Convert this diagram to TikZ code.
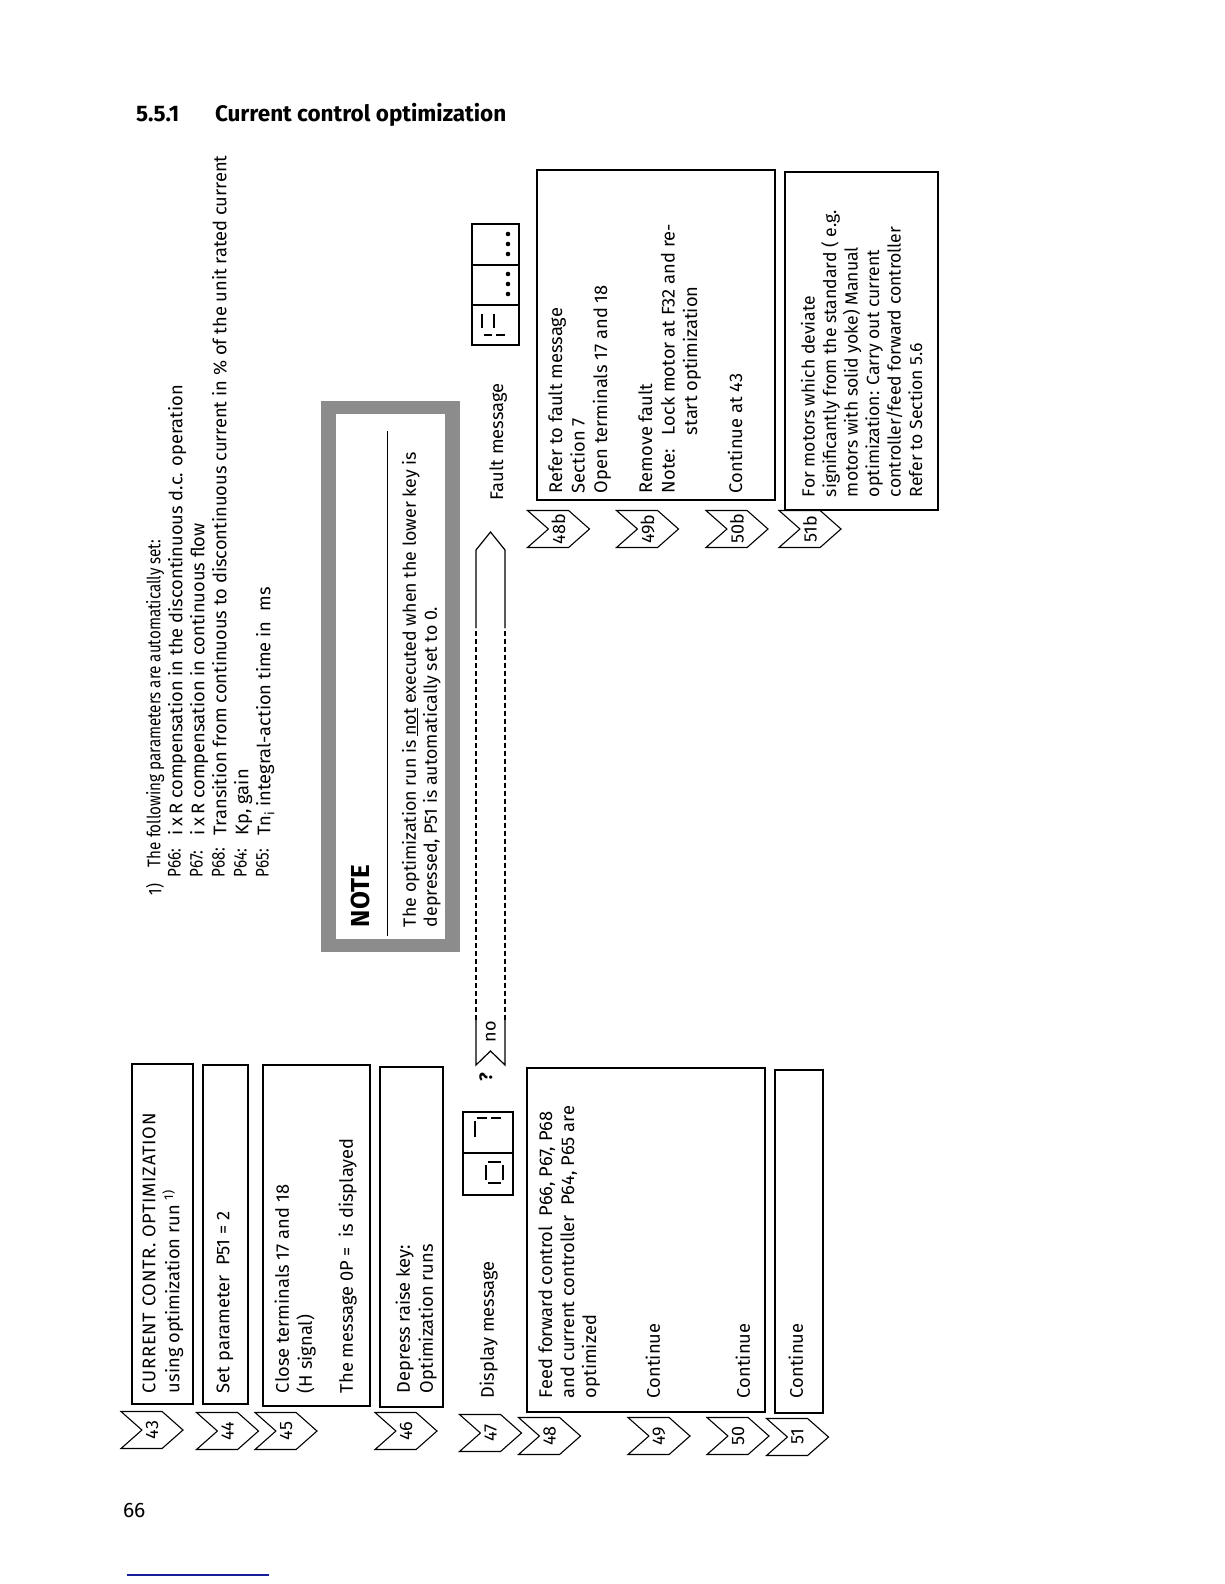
\documentclass[tikz,border=0pt]{standalone}
\usepackage{fontspec}
\setmainfont{Fira Sans}
\newfontfamily\condfont[FakeStretch=0.83]{Fira Sans}
\newfontfamily\spacedfont[LetterSpace=4]{Fira Sans}
\usetikzlibrary{shapes.symbols}
\definecolor{blueline}{RGB}{20,30,150}
\newcommand{\boxnode}[6][box]{%
  \node[#1,anchor=north west,minimum width={(#5-#3)*1pt},minimum height={(#6-#4)*1pt}] (#2) at (#3,#4) {};}
\begin{document}
\begin{tikzpicture}[x=1pt,y=-1pt,
  every node/.style={inner sep=0pt,outer sep=0pt},
  box/.style={draw,line width=1.2pt},
  txt/.style={rotate=90,anchor=north west,align=left,font=\fontsize{18.3}{23}\selectfont},
  fn/.style={rotate=90,anchor=north west,align=left,font=\fontsize{18.3}{22}\selectfont},
  fnlab/.style={fn,font=\condfont\fontsize{18.3}{22}\selectfont},
  tag/.style={draw,line width=1.1pt,shape=signal,signal to=east,signal from=west,
    minimum width=62pt,minimum height=37pt,signal pointer angle=83,font=\fontsize{18}{20}\selectfont},
  seg/.style={line width=2.6pt},
]
\useasboundingbox (0,0) rectangle (1224,1584);

% heading and page furniture
\node[anchor=base west,font=\bfseries\fontsize{22.5}{26}\selectfont] (secnum) at (136,122) {5.5.1};
\node[anchor=base west,font=\bfseries\fontsize{22.5}{26}\selectfont] (sectitle) at (215,122) {Current control optimization};
\node[anchor=base west,font=\fontsize{21}{24}\selectfont] (pagenum) at (123,1517) {66};
\coordinate (blA) at (127,1575);
\coordinate (blB) at (269,1575);
\draw[blueline,line width=1.6pt] (blA) -- (blB);

% footnote
\node[fnlab] (fnmark) at (146,895) {1)};
\node[fnlab] (fnhead) at (146,867) {The following parameters are automatically set:};
\node[fnlab] (fnP66) at (168,877) {P66:};
\node[fn] (fnP66t) at (168,835) {i\,x\,R compensation in the discontinuous d.c. operation};
\node[fnlab] (fnP67) at (190,877) {P67:};
\node[fn] (fnP67t) at (190,835) {i\,x\,R compensation in continuous flow};
\node[fnlab] (fnP68) at (212,877) {P68:};
\node[fn] (fnP68t) at (212,835) {Transition from continuous to discontinuous current in \% of the unit rated current};
\node[fnlab] (fnP64) at (234,877) {P64:};
\node[fn] (fnP64t) at (234,835) {Kp, gain};
\node[fnlab] (fnP65) at (256,877) {P65:};
\node[fn] (fnP65t) at (256,835) {Tn\textsubscript{i} integral-action time in\ \ ms};

% NOTE box
\boxnode[fill=black!45]{noteframe}{321}{401}{460}{952}
\boxnode[fill=white]{noteinner}{336}{414}{445}{939}
\node[rotate=90,anchor=north west,font=\bfseries\fontsize{26}{30}\selectfont] (notehead) at (351,927) {NOTE};
\coordinate (ruleA) at (387,936);
\coordinate (ruleB) at (387,431);
\draw[line width=1pt] (ruleA) -- (ruleB);
\node[fn,font=\fontsize{17.8}{21}\selectfont] (notetext) at (402,927) {The optimization run is \underline{not} executed when the lower key is\\depressed, P51 is automatically set to 0.};

% boxes
\boxnode{b43}{132}{1064}{193}{1404}
\boxnode{b44}{203}{1065}{248}{1404}
\boxnode{b45}{263}{1065}{370}{1406}
\boxnode{b46}{380}{1067}{443}{1407}
\boxnode{b48}{527}{1068}{765}{1412}
\boxnode{b51}{775}{1070}{823}{1413}
\boxnode{b48b}{537}{170}{775}{500}
\boxnode{b51b}{785}{172}{938}{510}

\node[txt] (x43) at (142.5,1393) {{\spacedfont CURRENT CONTR. OPTIMIZATION}\\[1pt]using optimization run \textsuperscript{1)}};
\node[txt] (x44) at (216.5,1393) {Set parameter\ \ P51 = 2};
\node[txt] (x45) at (274.5,1393) {Close terminals 17 and 18\\(H signal)\\[18pt]The message 0P =\ \ is displayed};
\node[txt] (x46) at (395.5,1393) {Depress raise key:\\Optimization runs};
\node[txt] (x47) at (479.5,1398) {Display message};
\node[txt,font=\fontsize{18.3}{22}\selectfont] (x48) at (538.5,1398) {Feed forward control\ \ P66, P67, P68\\and current controller\ \ P64, P65 are\\optimized};
\node[txt] (x49) at (645.5,1398) {Continue};
\node[txt] (x50) at (735.5,1398) {Continue};
\node[txt] (x51) at (788.5,1398) {Continue};

\node[txt] (xfault) at (489.5,500) {Fault message};
\node[txt,font=\fontsize{18.3}{22.5}\selectfont] (x48b) at (548.5,493) {Refer to fault message\\Section 7\\Open terminals 17 and 18\\[22.5pt]Remove fault\\\makebox[58pt][l]{Note:}Lock motor at F32 and re-\\\hspace*{58pt}start optimization\\[22.5pt]Continue at 43};
\node[txt,font=\fontsize{17.6}{21.5}\selectfont] (x51b) at (801,497) {For motors which deviate\\significantly from the standard ( e.g.\\motors with solid yoke) Manual\\optimization: Carry out current\\controller/feed forward controller\\Refer to Section 5.6};

% step tags
\node[tag] (t43) at (152,1430) {\rotatebox{90}{43}};
\node[tag] (t44) at (227.5,1431) {\rotatebox{90}{44}};
\node[tag] (t45) at (286,1431) {\rotatebox{90}{45}};
\node[tag] (t46) at (406,1431) {\rotatebox{90}{46}};
\node[tag] (t47) at (490.5,1433) {\rotatebox{90}{47}};
\node[tag] (t48) at (549.5,1436) {\rotatebox{90}{48}};
\node[tag] (t49) at (659,1436) {\rotatebox{90}{49}};
\node[tag] (t50) at (738,1436) {\rotatebox{90}{50}};
\node[tag] (t51) at (797.5,1437) {\rotatebox{90}{51}};
\node[tag] (t48b) at (558.5,529) {\rotatebox{90}{48b}};
\node[tag] (t49b) at (647.5,529) {\rotatebox{90}{49b}};
\node[tag] (t50b) at (737,529) {\rotatebox{90}{50b}};
\node[tag] (t51b) at (810,529) {\rotatebox{90}{51b}};

% display "0P"
\boxnode{d47}{463}{1112}{513}{1195}
\draw[line width=1.2pt] (463,1153) -- (513,1153);
\draw[seg] (475,1121) -- (475,1137);
\draw[seg] (477,1118) -- (487,1118);
\draw[seg] (491,1118) -- (501,1118);
\draw[seg] (486,1165) -- (486,1180);
\draw[seg] (503,1165) -- (503,1180);
\draw[seg] (488,1162) -- (501,1162);
\draw[seg] (488,1183) -- (501,1183);

% fault display
\boxnode{dfault}{472}{224}{519}{345}
\draw[line width=1.2pt] (472,265) -- (519,265);
\draw[line width=1.2pt] (472,305) -- (519,305);
\draw[seg] (482,314) -- (482,328);
\draw[seg] (494,314) -- (494,328);
\draw[seg] (484,335) -- (492,335);
\draw[seg] (496,335) -- (505,335);
\foreach \yy in {234,244,254,274,284,294} \fill (508,\yy) circle (2.3pt);

% "no" branch arrow
\node[rotate=90,font=\bfseries\fontsize{18}{20}\selectfont] (qmark) at (486,1077) {?};
\node[rotate=90,font=\fontsize{18}{20}\selectfont] (notxt) at (491,1032) {no};
\coordinate (nL0) at (476,1065);
\coordinate (nN) at (490.5,1051);
\coordinate (nR0) at (505,1065);
\coordinate (nL1) at (476,1020);
\coordinate (nR1) at (505,1020);
\coordinate (nL2) at (476,628);
\coordinate (nR2) at (505,628);
\coordinate (nL3) at (476,550);
\coordinate (nR3) at (505,550);
\coordinate (nT) at (490.5,532);
\draw[line width=1.2pt] (nL1) -- (nL0) -- (nN) -- (nR0) -- (nR1);
\draw[line width=1.2pt,dash pattern=on 5pt off 3pt] (nL1) -- (nL2);
\draw[line width=1.2pt,dash pattern=on 5pt off 3pt] (nR1) -- (nR2);
\draw[line width=1.2pt] (nL2) -- (nL3) -- (nT) -- (nR3) -- (nR2);
\end{tikzpicture}
\end{document}
